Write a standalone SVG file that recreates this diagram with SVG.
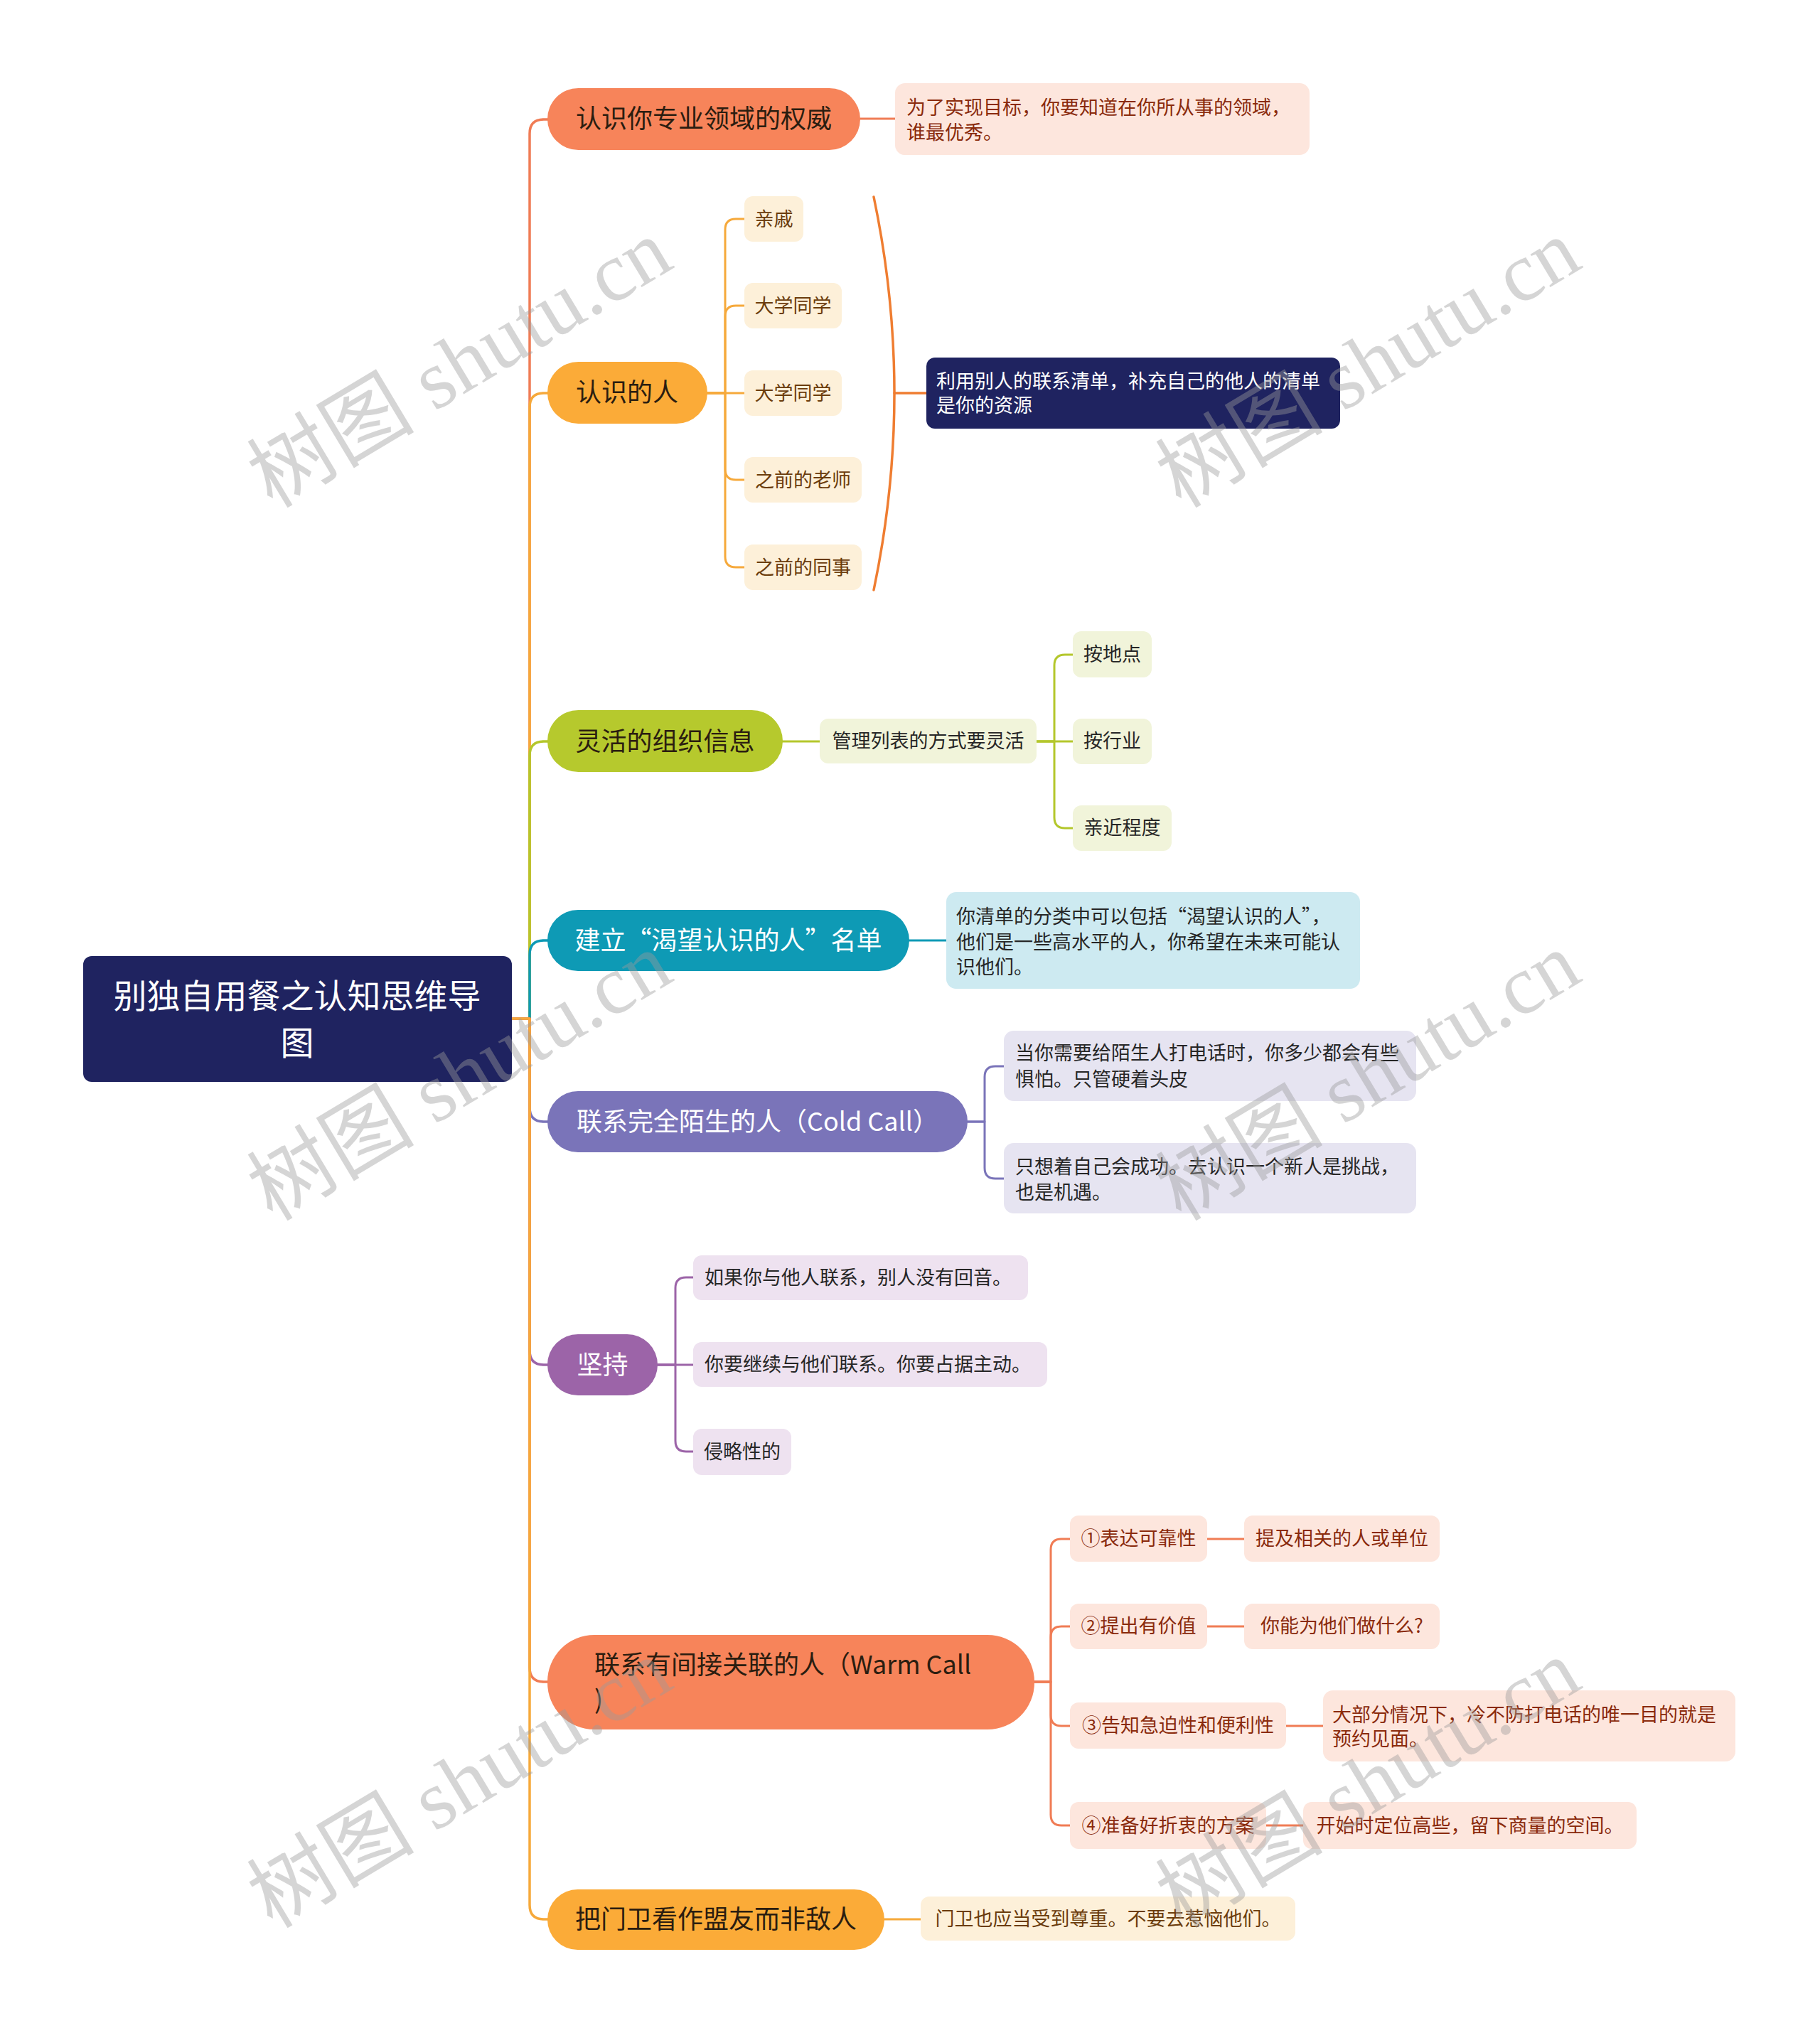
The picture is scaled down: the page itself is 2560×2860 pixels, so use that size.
<svg xmlns="http://www.w3.org/2000/svg" width="2560" height="2860" viewBox="0 0 2560 2860">
<style>
text{font-family:"Noto Sans CJK SC","Noto Sans",sans-serif;}
.t36{font-size:36px;}
.t27{font-size:27px;}
.mid{text-anchor:middle;}
.dark{fill:#2b1d10;}
.white{fill:#ffffff;}
.red{fill:#8a2a0c;}
.brown{fill:#6b3c0c;}
.ink{fill:#262626;}
.ln{fill:none;stroke-width:3.5;stroke-linecap:round;stroke-linejoin:round;}
.sub{fill:none;stroke-width:3;stroke-linecap:round;stroke-linejoin:round;}
.salmon{fill:#f7845a;}
.orange{fill:#fbab38;}
.green{fill:#b6c92d;}
.teal{fill:#0e9ab5;}
.violet{fill:#7a74b9;}
.purple{fill:#9c64a8;}
.navy{fill:#1f2360;}
.peach{fill:#fde6dd;}
.cream{fill:#fdf0d9;}
.lgreen{fill:#f1f4da;}
.lblue{fill:#cdeaf1;}
.lav{fill:#e6e4f1;}
.lilac{fill:#eee2f0;}
.wm{font-family:"Liberation Serif","Noto Sans CJK SC",serif;font-size:118px;fill:#9a9a9a;fill-opacity:0.42;}
</style>
<rect width="2560" height="2860" fill="#ffffff"/>

<g id="connectors">
  <path class="ln" stroke="#f07c55" d="M720,1433 H745 V188 Q745,168 765,168 H772"/>
  <path class="ln" stroke="#f6a93b" d="M720,1433 H745 V573 Q745,553 765,553 H772"/>
  <path class="ln" stroke="#b4c72c" d="M720,1433 H745 V1063 Q745,1043 765,1043 H772"/>
  <path class="ln" stroke="#0e9ab5" d="M720,1433 H745 V1343 Q745,1323 765,1323 H772"/>
  <path class="ln" stroke="#7a74b9" d="M720,1433 H745 V1558 Q745,1578 765,1578 H772"/>
  <path class="ln" stroke="#9c64a8" d="M720,1433 H745 V1900 Q745,1920 765,1920 H772"/>
  <path class="ln" stroke="#f07c55" d="M720,1433 H745 V2346 Q745,2366 765,2366 H772"/>
  <path class="ln" stroke="#f6a93b" d="M720,1433 H745 V2680 Q745,2700 765,2700 H772"/>

  <path class="sub" stroke="#f07c55" d="M1210,167 H1259"/>
  <path class="sub" stroke="#f6a93b" d="M995,553 H1020 V323 Q1020,308 1035,308 H1047"/>
  <path class="sub" stroke="#f6a93b" d="M995,553 H1020 V445 Q1020,430 1035,430 H1047"/>
  <path class="sub" stroke="#f6a93b" d="M995,553 H1047"/>
  <path class="sub" stroke="#f6a93b" d="M995,553 H1020 V660 Q1020,675 1035,675 H1047"/>
  <path class="sub" stroke="#f6a93b" d="M995,553 H1020 V783 Q1020,798 1035,798 H1047"/>
  <path class="ln" stroke="#ef7d31" d="M1229,277 Q1287,553 1229,830"/>
  <path class="ln" stroke="#ef7d31" d="M1258,553 H1303"/>
  <path class="sub" stroke="#b4c72c" d="M1101,1043 H1153"/>
  <path class="sub" stroke="#b4c72c" d="M1458,1043 H1483 V936 Q1483,921 1498,921 H1509"/>
  <path class="sub" stroke="#b4c72c" d="M1458,1043 H1509"/>
  <path class="sub" stroke="#b4c72c" d="M1458,1043 H1483 V1150 Q1483,1165 1498,1165 H1509"/>
  <path class="sub" stroke="#0e9ab5" d="M1279,1323 H1331"/>
  <path class="sub" stroke="#7a74b9" d="M1361,1578 H1385 V1515 Q1385,1500 1400,1500 H1412"/>
  <path class="sub" stroke="#7a74b9" d="M1361,1578 H1385 V1643 Q1385,1658 1400,1658 H1412"/>
  <path class="sub" stroke="#9c64a8" d="M925,1920 H950 V1812 Q950,1797 965,1797 H975"/>
  <path class="sub" stroke="#9c64a8" d="M925,1920 H975"/>
  <path class="sub" stroke="#9c64a8" d="M925,1920 H950 V2027 Q950,2042 965,2042 H975"/>
  <path class="sub" stroke="#f07c55" d="M1455,2366 H1478 V2180 Q1478,2165 1493,2165 H1505"/>
  <path class="sub" stroke="#f07c55" d="M1455,2366 H1478 V2303 Q1478,2288 1493,2288 H1505"/>
  <path class="sub" stroke="#f07c55" d="M1455,2366 H1478 V2413 Q1478,2428 1493,2428 H1505"/>
  <path class="sub" stroke="#f07c55" d="M1455,2366 H1478 V2553 Q1478,2568 1493,2568 H1505"/>
  <path class="sub" stroke="#f07c55" d="M1698,2165 H1750"/>
  <path class="sub" stroke="#f07c55" d="M1698,2288 H1750"/>
  <path class="sub" stroke="#f07c55" d="M1809,2428 H1861"/>
  <path class="sub" stroke="#f07c55" d="M1781,2568 H1833"/>
  <path class="sub" stroke="#f6a93b" d="M1244,2700 H1295"/>
</g>

<g id="root">
  <rect class="navy" x="117" y="1345" width="603" height="177" rx="12"/>
  <text class="white mid" x="418" y="1418" font-size="47">别独自用餐之认知思维导</text>
  <text class="white mid" x="418" y="1484" font-size="47">图</text>
</g>

<g id="b1">
  <rect class="salmon" x="770" y="124" width="440" height="87" rx="43.5"/>
  <text class="t36 dark mid" x="990" y="180">认识你专业领域的权威</text>
</g>
<g id="b1-c1">
  <rect class="peach" x="1259" y="117" width="583" height="101" rx="14"/>
  <text class="t27 red" x="1275" y="161">为了实现目标，你要知道在你所从事的领域，</text>
  <text class="t27 red" x="1275" y="196">谁最优秀。</text>
</g>

<g id="b2">
  <rect class="orange" x="770" y="509" width="225" height="87" rx="43.5"/>
  <text class="t36 dark mid" x="882" y="565">认识的人</text>
</g>
<g id="b2-c1"><rect class="cream" x="1047" y="276" width="83" height="64" rx="12"/><text class="t27 brown mid" x="1088.5" y="318">亲戚</text></g>
<g id="b2-c2"><rect class="cream" x="1047" y="398" width="137" height="64" rx="12"/><text class="t27 brown mid" x="1115.5" y="440">大学同学</text></g>
<g id="b2-c3"><rect class="cream" x="1047" y="521" width="137" height="64" rx="12"/><text class="t27 brown mid" x="1115.5" y="563">大学同学</text></g>
<g id="b2-c4"><rect class="cream" x="1047" y="643" width="165" height="64" rx="12"/><text class="t27 brown mid" x="1129.5" y="685">之前的老师</text></g>
<g id="b2-c5"><rect class="cream" x="1047" y="766" width="165" height="64" rx="12"/><text class="t27 brown mid" x="1129.5" y="808">之前的同事</text></g>
<g id="b2-summary">
  <rect class="navy" x="1303" y="503" width="582" height="100" rx="12"/>
  <text class="t27 white" x="1317" y="546">利用别人的联系清单，补充自己的他人的清单</text>
  <text class="t27 white" x="1317" y="580">是你的资源</text>
</g>

<g id="b3">
  <rect class="green" x="770" y="999" width="331" height="87" rx="43.5"/>
  <text class="t36 dark mid" x="935.5" y="1056">灵活的组织信息</text>
</g>
<g id="b3-c1"><rect class="lgreen" x="1153" y="1011" width="305" height="63" rx="12"/><text class="t27 ink mid" x="1305.5" y="1052">管理列表的方式要灵活</text></g>
<g id="b3-c1-1"><rect class="lgreen" x="1509" y="888" width="111" height="65" rx="12"/><text class="t27 ink mid" x="1564.5" y="930">按地点</text></g>
<g id="b3-c1-2"><rect class="lgreen" x="1509" y="1011" width="111" height="64" rx="12"/><text class="t27 ink mid" x="1564.5" y="1052">按行业</text></g>
<g id="b3-c1-3"><rect class="lgreen" x="1509" y="1133" width="139" height="64" rx="12"/><text class="t27 ink mid" x="1578.5" y="1174">亲近程度</text></g>

<g id="b4">
  <rect class="teal" x="770" y="1280" width="509" height="86" rx="43"/>
  <text class="t36 white mid" x="1024.5" y="1336">建立“渴望认识的人”名单</text>
</g>
<g id="b4-c1">
  <rect class="lblue" x="1331" y="1255" width="582" height="136" rx="14"/>
  <text class="t27 ink" x="1345" y="1299">你清单的分类中可以包括“渴望认识的人”，</text>
  <text class="t27 ink" x="1345" y="1335">他们是一些高水平的人，你希望在未来可能认</text>
  <text class="t27 ink" x="1345" y="1370">识他们。</text>
</g>

<g id="b5">
  <rect class="violet" x="770" y="1535" width="591" height="86" rx="43"/>
  <text class="t36 white mid" x="1065.5" y="1591">联系完全陌生的人（Cold Call）</text>
</g>
<g id="b5-c1">
  <rect class="lav" x="1412" y="1450" width="580" height="99" rx="14"/>
  <text class="t27 ink" x="1428" y="1491">当你需要给陌生人打电话时，你多少都会有些</text>
  <text class="t27 ink" x="1428" y="1528">惧怕。只管硬着头皮</text>
</g>
<g id="b5-c2">
  <rect class="lav" x="1412" y="1608" width="580" height="99" rx="14"/>
  <text class="t27 ink" x="1428" y="1651">只想着自己会成功。去认识一个新人是挑战，</text>
  <text class="t27 ink" x="1428" y="1687">也是机遇。</text>
</g>

<g id="b6">
  <rect class="purple" x="770" y="1877" width="155" height="86" rx="43"/>
  <text class="t36 white mid" x="847.5" y="1933">坚持</text>
</g>
<g id="b6-c1"><rect class="lilac" x="975" y="1766" width="471" height="63" rx="12"/><text class="t27 ink" x="991" y="1807">如果你与他人联系，别人没有回音。</text></g>
<g id="b6-c2"><rect class="lilac" x="975" y="1888" width="498" height="63" rx="12"/><text class="t27 ink" x="991" y="1929">你要继续与他们联系。你要占据主动。</text></g>
<g id="b6-c3"><rect class="lilac" x="975" y="2010" width="138" height="65" rx="12"/><text class="t27 ink mid" x="1044" y="2052">侵略性的</text></g>

<g id="b7">
  <rect class="salmon" x="770" y="2300" width="685" height="133" rx="66"/>
  <text class="t36 dark" x="836" y="2355">联系有间接关联的人（Warm Call</text>
  <text class="t36 dark" x="836" y="2404">)</text>
</g>
<g id="b7-c1"><rect class="peach" x="1505" y="2132" width="193" height="65" rx="12"/><text class="t27 red mid" x="1601.5" y="2174">①表达可靠性</text></g>
<g id="b7-c1-1"><rect class="peach" x="1750" y="2132" width="275" height="65" rx="12"/><text class="t27 red mid" x="1887.5" y="2174">提及相关的人或单位</text></g>
<g id="b7-c2"><rect class="peach" x="1505" y="2256" width="193" height="64" rx="12"/><text class="t27 red mid" x="1601.5" y="2297">②提出有价值</text></g>
<g id="b7-c2-1"><rect class="peach" x="1750" y="2256" width="275" height="64" rx="12"/><text class="t27 red mid" x="1887.5" y="2297">你能为他们做什么?</text></g>
<g id="b7-c3"><rect class="peach" x="1505" y="2395" width="304" height="65" rx="12"/><text class="t27 red mid" x="1657" y="2437">③告知急迫性和便利性</text></g>
<g id="b7-c3-1">
  <rect class="peach" x="1861" y="2378" width="580" height="100" rx="14"/>
  <text class="t27 red" x="1874" y="2422">大部分情况下，冷不防打电话的唯一目的就是</text>
  <text class="t27 red" x="1874" y="2456">预约见面。</text>
</g>
<g id="b7-c4"><rect class="peach" x="1505" y="2535" width="276" height="66" rx="12"/><text class="t27 red mid" x="1643" y="2578">④准备好折衷的方案</text></g>
<g id="b7-c4-1"><rect class="peach" x="1833" y="2535" width="469" height="66" rx="12"/><text class="t27 red mid" x="2067.5" y="2578">开始时定位高些，留下商量的空间。</text></g>

<g id="b8">
  <rect class="orange" x="770" y="2658" width="474" height="85" rx="42.5"/>
  <text class="t36 dark mid" x="1007" y="2713">把门卫看作盟友而非敌人</text>
</g>
<g id="b8-c1"><rect class="cream" x="1295" y="2668" width="527" height="62" rx="12"/><text class="t27 brown mid" x="1558.5" y="2709">门卫也应当受到尊重。不要去惹恼他们。</text></g>

<g id="watermarks">
  <text class="wm mid" transform="translate(648,514) rotate(-31)" y="37">树图 shutu.cn</text>
  <text class="wm mid" transform="translate(648,1517) rotate(-31)" y="37">树图 shutu.cn</text>
  <text class="wm mid" transform="translate(648,2512) rotate(-31)" y="37">树图 shutu.cn</text>
  <text class="wm mid" transform="translate(1926,514) rotate(-31)" y="37">树图 shutu.cn</text>
  <text class="wm mid" transform="translate(1926,1517) rotate(-31)" y="37">树图 shutu.cn</text>
  <text class="wm mid" transform="translate(1926,2512) rotate(-31)" y="37">树图 shutu.cn</text>
</g>
</svg>
